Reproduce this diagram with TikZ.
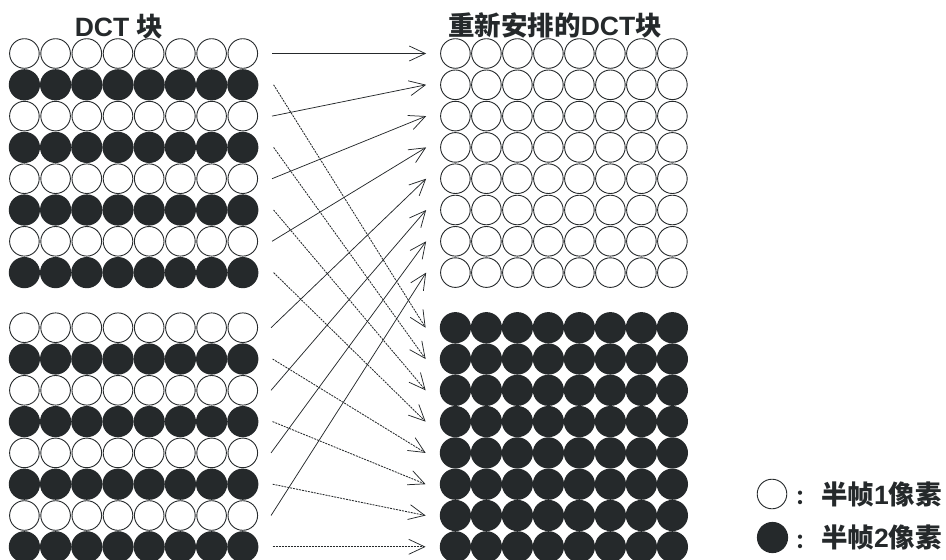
\documentclass[tikz,border=0pt]{standalone}
\usepackage{fontspec}
\setmainfont{Liberation Sans}
\newfontfamily\cjk{Noto Sans CJK SC}
\usetikzlibrary{arrows.meta}
\definecolor{ink}{HTML}{25292B}
\begin{document}
\begin{tikzpicture}[x=1pt,y=-1pt,
  wpix/.style={circle,draw=ink,line width=0.9pt,fill=white,minimum size=29.6pt,inner sep=0pt},
  bpix/.style={circle,fill=ink,minimum size=31.2pt,inner sep=0pt},
  solidarrow/.style={draw=ink,line width=0.75pt,-{Straight Barb[length=16pt,width=15pt,line width=0.75pt]}},
  dotarrow/.style={solidarrow,line width=0.85pt,dash pattern=on 2pt off 1pt},
  title/.style={font=\bfseries\fontsize{26.5}{30}\selectfont,text=ink,inner sep=0pt},
]
\useasboundingbox (0,0) rectangle (946,560);

% grids
\foreach \r in {1,...,8}{
  \pgfmathsetmacro\ya{53.5+31.3*(\r-1)}
  \pgfmathsetmacro\yb{327.7+31.3*(\r-1)}
  \foreach \c in {1,...,8}{
    \pgfmathsetmacro\xl{24.4+31.2*(\c-1)}
    \pgfmathsetmacro\xr{455.4+31*(\c-1)}
    \ifodd\r
      \node[wpix] (La-\r-\c) at (\xl,\ya) {};
      \node[wpix] (Lb-\r-\c) at (\xl,\yb) {};
    \else
      \node[bpix] (La-\r-\c) at (\xl,\ya) {};
      \node[bpix] (Lb-\r-\c) at (\xl,\yb) {};
    \fi
    \node[wpix] (Ra-\r-\c) at (\xr,\ya) {};
    \node[bpix] (Rb-\r-\c) at (\xr,\yb) {};
  }
}

% titles
\node[title] (t1) at (119,27) {DCT {\cjk 块}};
\node[title] (t2) at (555,25) {{\cjk 重新安排的}DCT{\cjk 块}};

% arrows
\foreach \i in {1,...,4}{
  \pgfmathtruncatemacro\o{2*\i-1}
  \pgfmathtruncatemacro\e{2*\i}
  \pgfmathtruncatemacro\k{\i+4}
  \draw[solidarrow] ([xshift=14pt]La-\o-8.east) -- ([xshift=-14pt]Ra-\i-1.west);
  \draw[solidarrow] ([xshift=13pt]Lb-\o-8.east) -- ([xshift=-14pt]Ra-\k-1.west);
  \draw[dotarrow] ([xshift=15pt]La-\e-8.east) -- ([xshift=-14pt]Rb-\i-1.west);
  \draw[dotarrow] ([xshift=14pt]Lb-\e-8.east) -- ([xshift=-14pt]Rb-\k-1.west);
}

% legend
\node[wpix] (lw) at (772,494) {};
\node[bpix] (lb) at (772.5,537.5) {};
\node[title,font=\fontsize{20}{24}\selectfont] (cw) at (805,498) {{\cjk\bfseries ：}};
\node[title,font=\fontsize{20}{24}\selectfont] (cb) at (805,542) {{\cjk\bfseries ：}};
\node[title,anchor=west] (tw) at (821,494) {{\cjk 半帧}1{\cjk 像素}};
\node[title,anchor=west] (tb) at (821,537.5) {{\cjk 半帧}2{\cjk 像素}};
\end{tikzpicture}
\end{document}
